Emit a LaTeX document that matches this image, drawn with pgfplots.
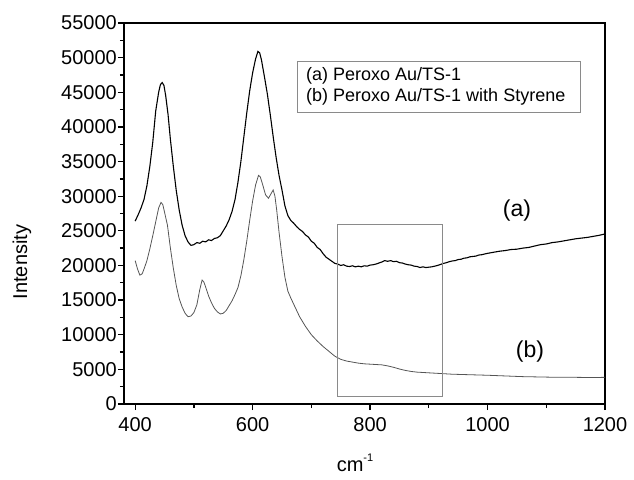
\documentclass[border=0pt]{standalone}
\usepackage{pgfplots}
\pgfplotsset{compat=1.18}
\usepackage{fontspec}
\setmainfont{Liberation Sans}
\definecolor{curveb}{HTML}{555555}
\definecolor{boxgray}{HTML}{8A8A8A}
\begin{document}
\begin{tikzpicture}[x=1pt,y=1pt]
\path[use as bounding box] (-124,-75) rectangle (510,404);
\begin{axis}[at={(0,0)}, anchor=south west, scale only axis,
  width=481pt, height=381pt,
  xmin=381, xmax=1200, ymin=0, ymax=55000,
  xtick={400,600,...,1200}, minor xtick={500,700,...,1100},
  ytick={0,5000,...,55000}, minor ytick={2500,7500,...,52500},
  tick align=outside, xtick pos=bottom, ytick pos=left,
  major tick length=6pt, minor tick length=4pt,
  axis line style={line width=1.6pt},
  tick style={line width=1.3pt, black},
  tick label style={font=\fontsize{20}{24}\selectfont},
  yticklabel style={inner sep=1pt},
  xticklabel style={inner sep=1pt, yshift=-6pt},
  /pgf/number format/assume math mode=true,
  /pgf/number format/set thousands separator={},
  scaled y ticks=false,
]
\addplot[black, line width=1.1pt] coordinates {
(400,26400)(405,27300)(410,28300)(415,29500)(420,31500)(425,34300)(430,37800)(435,42300)(440,45000)(443,46100)(446,46400)(449,46000)(452,44500)(456,41800)(460,38200)(465,34300)(470,30800)(475,28000)(480,25800)(485,24300)(490,23400)(495,22900)(500,23000)(505,23300)(510,23200)(515,23500)(520,23400)(525,23700)(530,23600)(535,23900)(540,24000)(545,24300)(550,25000)(555,25700)(560,26600)(565,27800)(570,29500)(575,32000)(580,35000)(585,38500)(590,42000)(595,45200)(600,47800)(605,49800)(609,50900)(612,50700)(615,49700)(620,47300)(625,44800)(630,41800)(635,38600)(640,35600)(645,33000)(650,30900)(655,28600)(660,27200)(665,26500)(670,26100)(675,25600)(680,25200)(685,24900)(690,24400)(695,24100)(700,23500)(705,23200)(710,22600)(715,22300)(720,21700)(725,21200)(730,20900)(735,20600)(740,20300)(745,20200)(750,20000)(755,20100)(760,19900)(765,19850)(770,19950)(775,19800)(780,19900)(785,19800)(790,19950)(795,19900)(800,20050)(805,20100)(810,20200)(815,20350)(820,20500)(825,20700)(830,20600)(835,20700)(840,20550)(845,20600)(850,20400)(855,20350)(860,20200)(865,20100)(870,20050)(875,19900)(880,19850)(885,19700)(890,19800)(895,19700)(900,19750)(905,19800)(910,19900)(915,20000)(920,20150)(925,20300)(930,20400)(935,20550)(940,20650)(945,20700)(950,20850)(955,20900)(960,21050)(965,21100)(970,21250)(975,21300)(980,21350)(985,21500)(990,21550)(995,21650)(1000,21750)(1010,21900)(1020,22050)(1030,22150)(1040,22300)(1050,22350)(1060,22500)(1070,22600)(1080,22800)(1090,23000)(1100,23100)(1110,23300)(1120,23400)(1130,23550)(1140,23700)(1150,23850)(1160,23950)(1170,24050)(1180,24200)(1190,24350)(1200,24550)
};
\addplot[curveb, line width=0.8pt] coordinates {
(400,20700)(404,19500)(408,18600)(412,18800)(416,19700)(420,20700)(425,22400)(430,24300)(435,26300)(440,28300)(444,29100)(447,28800)(450,27700)(455,25800)(460,22500)(465,19600)(470,17100)(475,15200)(480,14000)(485,13100)(490,12600)(495,12700)(500,13200)(505,14300)(510,16500)(514,17900)(517,17600)(520,16900)(525,15600)(530,14600)(535,13800)(540,13300)(545,13000)(550,13100)(555,13500)(560,14200)(565,14900)(570,15800)(575,16800)(580,18500)(585,20800)(590,23500)(595,26500)(600,29300)(605,31600)(610,33000)(613,32800)(617,31700)(622,30200)(627,29700)(631,30300)(635,30900)(638,30000)(641,28000)(645,24800)(650,21300)(655,18300)(660,16300)(665,15300)(670,14400)(680,12600)(690,11200)(700,10000)(710,9100)(720,8300)(730,7600)(740,6900)(750,6450)(760,6200)(770,6050)(780,5900)(790,5800)(800,5750)(810,5700)(820,5650)(830,5500)(840,5300)(850,5050)(860,4850)(870,4700)(880,4600)(890,4550)(900,4500)(920,4400)(940,4300)(960,4250)(980,4200)(1000,4150)(1030,4050)(1060,3950)(1090,3900)(1120,3850)(1150,3850)(1180,3820)(1200,3850)
};
\draw[boxgray, line width=1pt] (axis cs:744,1150) rectangle (axis cs:924,25850);
\end{axis}
\draw[boxgray, line width=0.8pt, fill=white] (173,343) rectangle (456,292);
\node[anchor=west, inner sep=0pt, font=\fontsize{18}{21}\selectfont] at (182,328) {(a) Peroxo Au/TS-1};
\node[anchor=west, inner sep=0pt, font=\fontsize{18}{21}\selectfont] at (182,307) {(b) Peroxo Au/TS-1 with Styrene};
\node[font=\fontsize{23}{27}\selectfont] at (393,193) {(a)};
\node[font=\fontsize{23}{27}\selectfont] at (406,52) {(b)};
\node[rotate=90, font=\fontsize{20}{24}\selectfont] at (-102,142) {Intensity};
\node[font=\fontsize{20}{24}\selectfont] at (231,-59) {cm\raisebox{1.0ex}{\fontsize{11}{12}\selectfont -1}};
\end{tikzpicture}
\end{document}
